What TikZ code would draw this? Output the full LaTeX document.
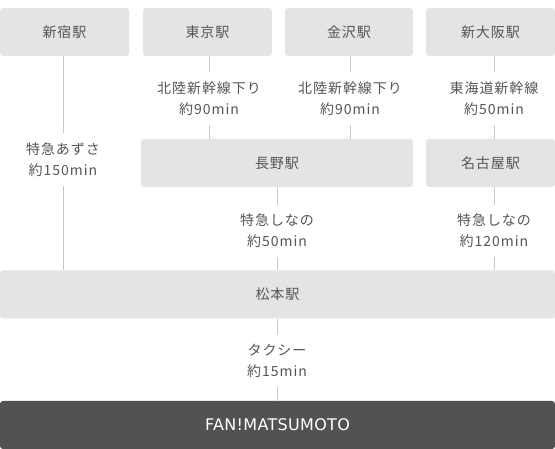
\documentclass[tikz,border=0pt]{standalone}
\usepackage{fontspec}
\newfontfamily\jp{Noto Sans CJK JP}[LetterSpace=7]
\newfontfamily\dv{DejaVu Sans}[LetterSpace=2]
\definecolor{boxfill}{HTML}{E4E4E4}
\definecolor{darkbox}{HTML}{525252}
\definecolor{txt}{HTML}{555555}
\definecolor{linec}{HTML}{C8C8C8}
\begin{document}
\begin{tikzpicture}[x=1pt,y=-1pt,
  station/.style={fill=boxfill, rounded corners=3pt, inner sep=0pt, text=txt,
    minimum height=48, font=\jp\fontsize{14}{21}\selectfont},
  goal/.style={fill=darkbox, rounded corners=3pt, inner sep=0pt, text=white,
    minimum height=48, font=\dv\fontsize{16}{20}\selectfont},
  lbl/.style={align=center, inner xsep=0pt, inner ysep=9pt, text=txt,
    font=\jp\fontsize{14}{21}\selectfont},
  conn/.style={draw=linec, line width=1pt}]
\useasboundingbox (0,0) rectangle (555,449);

% stations
\node[station, minimum width=129] (shinjuku) at (64.5,32) {新宿駅};
\node[station, minimum width=129] (tokyo) at (207.5,32) {東京駅};
\node[station, minimum width=128] (kanazawa) at (349,32) {金沢駅};
\node[station, minimum width=129] (shinosaka) at (490.5,32) {新大阪駅};
\node[station, minimum width=272] (nagano) at (277,163) {長野駅};
\node[station, minimum width=129] (nagoya) at (490.5,163) {名古屋駅};
\node[station, minimum width=555] (matsumoto) at (277.5,294.5) {松本駅};
\node[goal, minimum width=555] (fan) at (277.5,425) {FAN!MATSUMOTO};

% labels
\node[lbl] (l1) at (63,159.5) {特急あずさ\\約150min};
\node[lbl] (l2) at (209,98.5) {北陸新幹線下り\\約90min};
\node[lbl] (l3) at (350,98.5) {北陸新幹線下り\\約90min};
\node[lbl] (l4) at (494,98.5) {東海道新幹線\\約50min};
\node[lbl] (l5) at (277,231) {特急しなの\\約50min};
\node[lbl] (l6) at (494,231) {特急しなの\\約120min};
\node[lbl] (l7) at (277,361) {タクシー\\約15min};

% connectors
\draw[conn] (shinjuku.south -| l1.north) -- (l1.north);
\draw[conn] (l1.south) -- (l1.south |- matsumoto.north);
\draw[conn] (tokyo.south -| l2.north) -- (l2.north);
\draw[conn] (l2.south) -- (l2.south |- nagano.north);
\draw[conn] (kanazawa.south -| l3.north) -- (l3.north);
\draw[conn] (l3.south) -- (l3.south |- nagano.north);
\draw[conn] (shinosaka.south -| l4.north) -- (l4.north);
\draw[conn] (l4.south) -- (l4.south |- nagoya.north);
\draw[conn] (nagano.south -| l5.north) -- (l5.north);
\draw[conn] (l5.south) -- (l5.south |- matsumoto.north);
\draw[conn] (nagoya.south -| l6.north) -- (l6.north);
\draw[conn] (l6.south) -- (l6.south |- matsumoto.north);
\draw[conn] (matsumoto.south -| l7.north) -- (l7.north);
\draw[conn] (l7.south) -- (l7.south |- fan.north);
\end{tikzpicture}
\end{document}
